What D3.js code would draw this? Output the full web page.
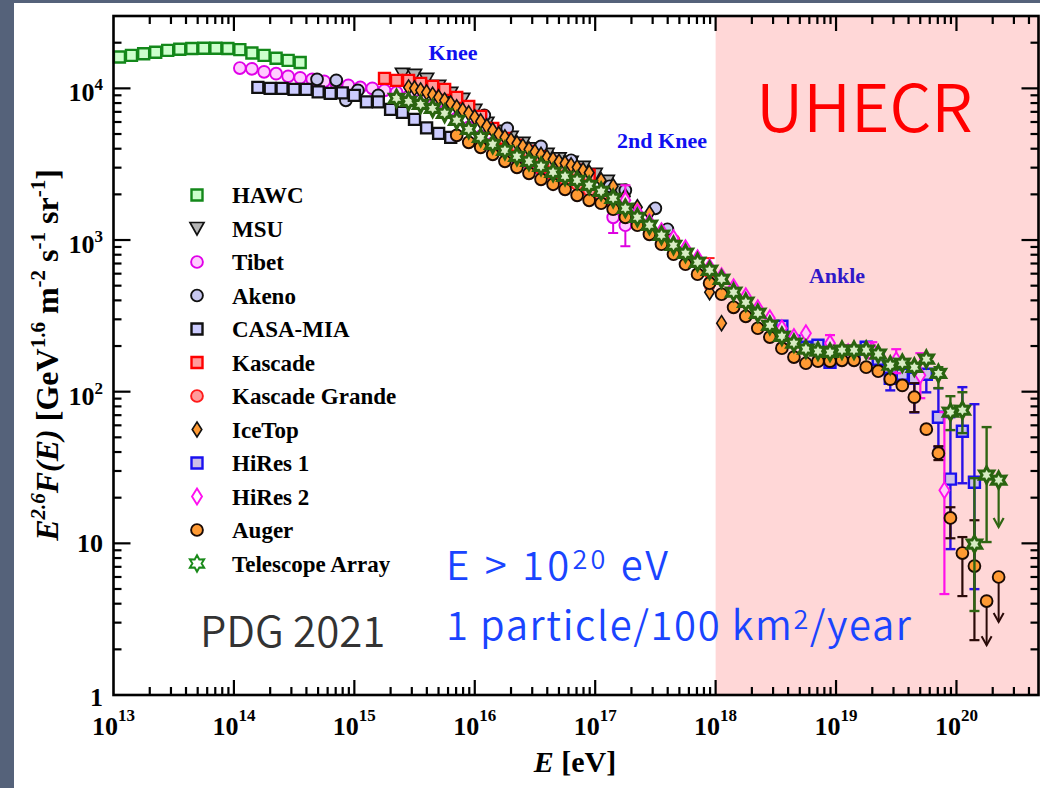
<!DOCTYPE html>
<html><head><meta charset="utf-8">
<script src="https://cdn.jsdelivr.net/npm/d3@7"></script>
<style>html,body{margin:0;padding:0;background:#fff;}svg{display:block}</style>
</head><body>
<svg id="chart" width="1040" height="788"></svg>
<script>
// ---------------- DATA ----------------
const xTickExps = [13, 14, 15, 16, 17, 18, 19, 20];
const yTickLabels = [["1", ""], ["10", ""], ["10", "2"], ["10", "3"], ["10", "4"]];
const yTickValues = [1, 10, 100, 1000, 10000];
const uhecrStart = 1e18;

const hawcE = [1.12e13, 1.41e13, 1.78e13, 2.24e13, 2.82e13, 3.55e13, 4.47e13, 5.62e13, 7.08e13, 8.91e13, 1.12e14, 1.41e14, 1.78e14, 2.24e14, 2.82e14, 3.55e14];
const hawcF = [16100, 16500, 16900, 17300, 17800, 18100, 18300, 18400, 18400, 18300, 18000, 17100, 16500, 15800, 15300, 14800];

const msuE = [2.51e15, 3.16e15, 3.98e15, 5.01e15, 6.31e15, 7.94e15, 1.0e16, 1.26e16, 1.58e16, 2.0e16, 2.51e16, 3.16e16, 3.98e16, 5.01e16, 6.31e16, 7.94e16, 1.0e17, 1.26e17, 1.58e17];
const msuF = [12370, 12180, 11460, 10310, 9270, 8463, 7161, 5882, 5208, 4754, 4341, 3993, 3674, 3431, 3254, 3016, 2712, 2439, 2127];

const tibetE = [1.12e14, 1.41e14, 1.78e14, 2.24e14, 2.82e14, 3.55e14, 4.47e14, 5.62e14, 7.08e14, 8.91e14, 1.12e15, 1.41e15, 1.78e15, 2.24e15, 2.82e15, 3.55e15, 4.47e15, 5.62e15, 7.08e15, 8.91e15, 1.12e16, 1.41e16, 1.78e16, 2.24e16, 2.82e16, 3.55e16, 4.47e16, 5.62e16, 7.08e16, 8.91e16, 1.12e17, 1.41e17, 1.78e17];
const tibetF = [13610, 13450, 12850, 12500, 12000, 11730, 11470, 11120, 10790, 10470, 10150, 10000, 9700, 9410, 8857, 8334, 7727, 7053, 6343, 5534, 4827, 4341, 3904, 3457, 3205, 2926, 2712, 2514, 2366, 2193, 1972, 1412, 1251];
const tibetErr = [[1.41e17, 1112, 1694], [1.78e17, 910, 1619]];

const akenoE = [4.9e14, 7.08e14, 8.5e14, 1.07e15, 1.58e15, 6.31e15, 1.2e16, 1.86e16, 3.55e16, 6.31e16, 1.32e17, 1.78e17, 3.16e17, 3.98e17];
const akenoF = [11470, 11290, 8334, 9700, 8994, 7963, 6640, 5450, 4147, 3354, 2261, 2127, 1619, 1178];

const casaE = [1.58e14, 2.0e14, 2.51e14, 3.16e14, 3.98e14, 5.01e14, 6.31e14, 7.94e14, 1.0e15, 1.26e15, 1.58e15, 2.0e15, 2.51e15, 3.16e15, 3.98e15, 5.01e15, 6.31e15];
const casaF = [10150, 10000, 10000, 9849, 9849, 9482, 9270, 9340, 8994, 8149, 8149, 7270, 6948, 6246, 5491, 5051, 4754];

const kascadeE = [1.78e15, 2.24e15, 2.82e15, 3.55e15, 4.47e15, 5.62e15, 7.08e15, 8.91e15, 1.12e16, 1.41e16, 1.78e16, 2.24e16, 2.82e16, 3.55e16, 4.47e16, 5.62e16, 7.08e16, 8.91e16];
const kascadeF = [11640, 11290, 11290, 10790, 10310, 9850, 8726, 7610, 6540, 5450, 4682, 4211, 3843, 3510, 3254, 3062, 2882, 2672];

const kgE = [1.78e16, 2.24e16, 2.82e16, 3.55e16, 4.47e16, 5.62e16, 7.08e16, 8.91e16, 1.12e17, 1.41e17, 1.78e17, 2.24e17, 2.82e17, 3.55e17, 4.47e17, 5.62e17, 7.08e17, 8.91e17];
const kgF = [3904, 3564, 3254, 2971, 2712, 2514, 2331, 2127, 1942, 1747, 1570, 1349, 1195, 1059, 996, 830, 714, 613];
const kgErr = [[8.91e17, 480, 760]];

const icetopE = [2.82e15, 3.16e15, 3.55e15, 3.98e15, 4.47e15, 5.01e15, 5.62e15, 6.31e15, 7.08e15, 7.94e15, 8.91e15, 1.0e16, 1.12e16, 1.26e16, 1.41e16, 1.58e16, 1.78e16, 2.0e16, 2.24e16, 2.51e16, 2.82e16, 3.16e16, 3.55e16, 3.98e16, 4.47e16, 5.01e16, 5.62e16, 6.31e16, 7.08e16, 7.94e16, 8.91e16, 1.12e17, 1.41e17, 1.78e17, 2.24e17, 2.82e17, 8.91e17, 1.12e18];
const icetopF = [10150, 10000, 9700, 9410, 9063, 8726, 8334, 7963, 7495, 7161, 6845, 6441, 6060, 5618, 5286, 4978, 4754, 4543, 4341, 4147, 3963, 3815, 3646, 3510, 3405, 3279, 3205, 3109, 3016, 2882, 2775, 2476, 2261, 1942, 1644, 1501, 453, 283];

const hires1E = [3.55e18, 4.47e18, 5.62e18, 7.08e18, 8.91e18, 1.12e19, 1.41e19, 1.78e19, 2.24e19, 2.82e19, 3.55e19, 4.47e19, 5.62e19, 7.08e19, 8.91e19, 1.12e20, 1.41e20];
const hires1F = [270, 215, 196.5, 202.5, 156.5, 174, 179.4, 196.5, 163.8, 122.7, 130.4, 122.7, 130.4, 67.9, 26.5, 54.9, 25.3];
const hires1Err = [[2.82e19, 102, 147], [4.47e19, 73, 140], [5.62e19, 99, 139], [7.08e19, 43.1, 105.5], [8.91e19, 9.16, 67.9], [1.12e20, 24.9, 107.1], [1.41e20, 4.99, 82.7]];

const hires2E = [1.78e17, 2.24e17, 2.82e17, 3.55e17, 4.47e17, 5.62e17, 7.08e17, 8.91e17, 1.12e18, 1.41e18, 1.78e18, 2.24e18, 2.82e18, 3.55e18, 4.47e18, 5.62e18, 8.91e18, 1.26e19, 2.0e19, 3.16e19, 5.01e19, 7.94e19];
const hires2F = [1828, 1524, 1309, 1142, 1027, 882, 758, 661, 577, 488, 426, 355, 305, 262, 229, 243, 209, 182, 188, 161, 128.5, 22.4];
const hires2Err = [[1.78e17, 1550, 2295], [8.91e18, 182, 236], [1.26e19, 161, 202.5], [2.0e19, 166, 212], [3.16e19, 132.4, 190.6], [5.01e19, 90.6, 179.4], [7.94e19, 4.63, 73.3]];

const augerE = [7.08e15, 8.91e15, 1.12e16, 1.41e16, 1.78e16, 2.24e16, 2.82e16, 3.55e16, 4.47e16, 5.62e16, 7.08e16, 8.91e16, 1.12e17, 1.41e17, 1.78e17, 2.24e17, 2.82e17, 3.55e17, 4.47e17, 5.62e17, 7.08e17, 8.91e17, 1.12e18, 1.41e18, 1.78e18, 2.24e18, 2.82e18, 3.55e18, 4.47e18, 5.62e18, 7.08e18, 8.91e18, 1.12e19, 1.41e19, 1.78e19, 2.24e19, 2.82e19, 3.55e19, 4.47e19, 5.62e19, 7.08e19, 8.91e19, 1.12e20, 1.41e20, 1.78e20, 2.24e20];
const augerF = [4901, 4409, 4086, 3674, 3303, 3016, 2754, 2514, 2331, 2160, 1972, 1828, 1747, 1595, 1412, 1251, 1091, 938, 806, 692, 595, 519, 439, 360, 314, 262, 229, 193.5, 169, 154, 159, 159, 161, 161, 145, 136.5, 121, 110, 92, 56.6, 39.3, 14.7, 8.63, 7.08, 4.16, 6.0];
const augerErr = [[4.47e19, 73.3, 113.8], [7.08e19, 35.4, 43.7], [8.91e19, 10.8, 17.3], [1.12e20, 4.49, 11.0], [1.41e20, 2.30, 14.2]];
const augerUL = [[1.78e20, 4.16, 2.13], [2.24e20, 6.0, 3.03]];

const taE = [2.24e15, 2.82e15, 3.55e15, 4.47e15, 5.62e15, 7.08e15, 8.91e15, 1.12e16, 1.41e16, 1.78e16, 2.24e16, 2.82e16, 3.55e16, 4.47e16, 5.62e16, 7.08e16, 8.91e16, 1.12e17, 1.41e17, 1.78e17, 2.24e17, 2.82e17, 3.55e17, 4.47e17, 5.62e17, 7.08e17, 8.91e17, 1.12e18, 1.41e18, 1.78e18, 2.24e18, 2.82e18, 3.55e18, 4.47e18, 5.62e18, 7.08e18, 8.91e18, 1.12e19, 1.41e19, 1.78e19, 2.24e19, 2.82e19, 3.55e19, 4.47e19, 5.62e19, 7.08e19, 8.91e19, 1.12e20, 1.41e20, 1.78e20, 2.24e20];
const taF = [8594, 8211, 7846, 7383, 6845, 6155, 5368, 4754, 4276, 3904, 3564, 3303, 3062, 2796, 2631, 2476, 2295, 2096, 1884, 1619, 1412, 1251, 1075, 923, 818, 714, 632, 551, 453, 389, 329, 274, 232, 209, 191, 185, 182, 188, 188, 188, 177, 149.5, 154, 145, 164, 132, 73.3, 75.5, 9.89, 28.2, 26.1];
const taErr = [[7.08e19, 105.5, 145], [8.91e19, 55.8, 93.4], [1.12e20, 53.3, 99.2], [1.41e20, 3.58, 26.9], [1.78e20, 10.2, 58.4]];
const taUL = [[2.24e20, 26.1, 12.8]];

const legendNames = ["HAWC", "MSU", "Tibet", "Akeno", "CASA-MIA", "Kascade", "Kascade Grande", "IceTop", "HiRes 1", "HiRes 2", "Auger", "Telescope Array"];

// ---------------- CHART ----------------
const W = 1040, H = 788;
const SERIF = "'Liberation Serif','Times New Roman',serif";
const SANS = "'Noto Sans CJK JP','Noto Sans',sans-serif";
const svg = d3.select("#chart");

svg.append("rect").attr("width", W).attr("height", H).attr("fill", "#55627a");
svg.append("rect").attr("x", 14).attr("y", 3).attr("width", W - 14).attr("height", H - 3).attr("fill", "#ffffff");

const x = d3.scaleLog().domain([1e13, 4.8e20]).range([113.5, 1038.5]);
const y = d3.scaleLog().domain([1, 3e4]).range([695, 16]);
const X0 = x.range()[0], X1 = x.range()[1], Y0 = y.range()[0], Y1 = y.range()[1];

// UHECR band
svg.append("rect").attr("x", x(uhecrStart)).attr("y", Y1)
  .attr("width", W - x(uhecrStart)).attr("height", Y0 - Y1).attr("fill", "#ffd7d7");

const styles = {
  "HAWC": {shape: "square", fill: "#ccffcc", stroke: "#13881a", sw: 2.4},
  "MSU": {shape: "tri", fill: "#b4b4b4", stroke: "#111", sw: 1.7},
  "Tibet": {shape: "circle", fill: "#ffccff", stroke: "#e000e8", sw: 1.9},
  "Akeno": {shape: "circle", fill: "#c8c8f0", stroke: "#111", sw: 1.9},
  "CASA-MIA": {shape: "square", fill: "#ccccff", stroke: "#111", sw: 2.4},
  "Kascade": {shape: "square", fill: "#ff9c9c", stroke: "#ff0000", sw: 2.4},
  "Kascade Grande": {shape: "circle", fill: "#ff9c9c", stroke: "#ff1a1a", sw: 1.9},
  "IceTop": {shape: "diamond", fill: "#ff9a33", stroke: "#111", sw: 1.6},
  "HiRes 1": {shape: "square", fill: "#cdbfe6", stroke: "#1a10f0", sw: 2.4},
  "HiRes 2": {shape: "diamond2", fill: "#ffccf5", stroke: "#ff10f0", sw: 1.9},
  "Auger": {shape: "circle", fill: "#ff9a33", stroke: "#1a0a05", sw: 1.9},
  "Telescope Array": {shape: "star", fill: "#d8ecc4", stroke: "#2a6410", sw: 3.0}
};

function shapePath(shape) {
  switch (shape) {
    case "square": return "M-5.5,-5.5H5.5V5.5H-5.5Z";
    case "circle": return d3.symbol(d3.symbolCircle, Math.PI * 5.9 * 5.9)();
    case "tri": return "M-7,-6L7,-6L0,6.5Z";
    case "diamond": return "M0,-7.5L4.8,0L0,7.5L-4.8,0Z";
    case "diamond2": return "M0,-8L5,0L0,8L-5,0Z";
    case "star": {
      const pts = [];
      for (let i = 0; i < 12; i++) {
        const a = -Math.PI / 2 + i * Math.PI / 6;
        const r = i % 2 === 0 ? 8.2 : 4.6;
        pts.push([r * Math.cos(a), r * Math.sin(a)]);
      }
      return "M" + pts.map(p => p[0].toFixed(2) + "," + p[1].toFixed(2)).join("L") + "Z";
    }
  }
}

const plot = svg.append("g");

function drawErr(list, color, sw) {
  const g = plot.append("g").attr("stroke", color).attr("stroke-width", sw).attr("fill", "none");
  list.forEach(([e, lo, hi]) => {
    const cx = x(e);
    g.append("line").attr("x1", cx).attr("x2", cx).attr("y1", y(lo)).attr("y2", y(hi));
    g.append("line").attr("x1", cx - 5).attr("x2", cx + 5).attr("y1", y(lo)).attr("y2", y(lo));
    g.append("line").attr("x1", cx - 5).attr("x2", cx + 5).attr("y1", y(hi)).attr("y2", y(hi));
  });
}
function drawUL(list, color, sw) {
  const g = plot.append("g").attr("stroke", color).attr("stroke-width", sw).attr("fill", "none");
  list.forEach(([e, f, to]) => {
    const cx = x(e), ty = y(to);
    g.append("line").attr("x1", cx).attr("x2", cx).attr("y1", y(f)).attr("y2", ty);
    g.append("path").attr("d", `M${cx - 5},${ty - 9}L${cx},${ty}L${cx + 5},${ty - 9}`);
  });
}
function drawSeries(name, E, F) {
  const st = styles[name];
  const d = shapePath(st.shape);
  plot.append("g").selectAll("path").data(E.map((e, i) => [e, F[i]])).join("path")
    .attr("d", d)
    .attr("transform", p => `translate(${x(p[0])},${y(p[1])})`)
    .attr("fill", st.fill).attr("stroke", st.stroke).attr("stroke-width", st.sw)
    .attr("stroke-linejoin", "miter");
}

drawSeries("HAWC", hawcE, hawcF);
drawSeries("MSU", msuE, msuF);
drawErr(tibetErr, "#dd00e0", 2);
drawSeries("Tibet", tibetE, tibetF);
drawSeries("Akeno", akenoE, akenoF);
drawSeries("CASA-MIA", casaE, casaF);
drawSeries("Kascade", kascadeE, kascadeF);
drawErr(kgErr, "#ff1a1a", 2);
drawSeries("Kascade Grande", kgE, kgF);
drawSeries("IceTop", icetopE, icetopF);
drawErr(hires1Err, "#2a10e8", 2.4);
drawSeries("HiRes 1", hires1E, hires1F);
drawErr(hires2Err, "#ff10e8", 2.2);
drawSeries("HiRes 2", hires2E, hires2F);
drawErr(augerErr, "#2a0a08", 2.2);
drawUL(augerUL, "#2a0a08", 2);
drawSeries("Auger", augerE, augerF);
drawErr(taErr, "#2f6512", 2.4);
drawUL(taUL, "#2f6512", 2.2);
drawSeries("Telescope Array", taE, taF);

// ---------------- AXES ----------------
const ax = svg.append("g").attr("stroke", "#000").attr("fill", "none");
const isMajor = t => Math.abs(Math.log10(t) - Math.round(Math.log10(t))) < 1e-9;
x.ticks().forEach(t => {
  const px = x(t), L = isMajor(t) ? 15 : 8;
  if (px < X0 + 1 || px > X1 - 1) return;
  ax.append("line").attr("x1", px).attr("x2", px).attr("y1", Y0).attr("y2", Y0 - L).attr("stroke-width", 2.2);
  ax.append("line").attr("x1", px).attr("x2", px).attr("y1", Y1).attr("y2", Y1 + L).attr("stroke-width", 2.2);
});
y.ticks().forEach(t => {
  const py = y(t), L = isMajor(t) ? 17 : 8;
  if (py > Y0 - 1 || py < Y1 + 1) return;
  ax.append("line").attr("x1", X0).attr("x2", X0 + L).attr("y1", py).attr("y2", py).attr("stroke-width", 2.2);
  ax.append("line").attr("x1", X1).attr("x2", X1 - L).attr("y1", py).attr("y2", py).attr("stroke-width", 2.2);
});
ax.append("rect").attr("x", X0).attr("y", Y1).attr("width", X1 - X0).attr("height", Y0 - Y1).attr("stroke-width", 2.6);

// tick labels
const lab = svg.append("g").attr("font-family", SERIF).attr("font-weight", "bold").attr("fill", "#000");
xTickExps.forEach(e => {
  const t = lab.append("text").attr("x", x(Math.pow(10, e))).attr("y", 735).attr("text-anchor", "middle").attr("font-size", 26);
  t.append("tspan").text("10");
  t.append("tspan").attr("font-size", 17).attr("dy", -14).text(String(e));
});
yTickValues.forEach((v, i) => {
  const [base, sup] = yTickLabels[i];
  const off = sup ? 13 : (base === "1" ? 11 : 9);
  const t = lab.append("text").attr("x", 103).attr("y", y(v) + off).attr("text-anchor", "end").attr("font-size", 26);
  t.append("tspan").text(base);
  if (sup) t.append("tspan").attr("font-size", 17).attr("dy", -11).text(sup);
});

// axis titles
const xt = lab.append("text").attr("x", 575).attr("y", 772).attr("text-anchor", "middle").attr("font-size", 30);
xt.append("tspan").attr("font-style", "italic").text("E");
xt.append("tspan").text(" [eV]");

const yt = lab.append("text").attr("transform", "translate(58,355) rotate(-90)").attr("text-anchor", "middle").attr("font-size", 32);
yt.append("tspan").attr("font-style", "italic").text("E");
yt.append("tspan").attr("font-style", "italic").attr("font-size", 21).attr("dy", -13).text("2.6");
yt.append("tspan").attr("font-style", "italic").attr("dy", 13).text("F(E)");
yt.append("tspan").text(" [GeV");
yt.append("tspan").attr("font-size", 21).attr("dy", -13).text("1.6");
yt.append("tspan").attr("dy", 13).text(" m");
yt.append("tspan").attr("font-size", 21).attr("dy", -13).text("-2");
yt.append("tspan").attr("dy", 13).text(" s");
yt.append("tspan").attr("font-size", 21).attr("dy", -13).text("-1");
yt.append("tspan").attr("dy", 13).text(" sr");
yt.append("tspan").attr("font-size", 21).attr("dy", -13).text("-1");
yt.append("tspan").attr("dy", 13).text("]");

// ---------------- LEGEND ----------------
const leg = svg.append("g");
legendNames.forEach((n, i) => {
  const cy = 195 + i * 33.5;
  const st = styles[n];
  let fill = st.fill;
  if (n === "Telescope Array" || n === "HiRes 2") fill = "#ffffff";
  leg.append("path").attr("d", shapePath(st.shape)).attr("transform", `translate(197,${cy})`)
    .attr("fill", fill).attr("stroke", n === "Telescope Array" ? "#1a8a1a" : st.stroke)
    .attr("stroke-width", n === "Telescope Array" ? 2 : st.sw);
  leg.append("text").attr("x", 232).attr("y", cy + 8).attr("font-family", SERIF).attr("font-weight", "bold")
    .attr("font-size", 23).attr("fill", "#000").text(n);
});

// ---------------- ANNOTATIONS ----------------
const ann = svg.append("g").attr("font-family", SERIF).attr("font-weight", "bold").attr("font-size", 22);
ann.append("text").attr("x", 453).attr("y", 60).attr("text-anchor", "middle").attr("fill", "#1010f0").text("Knee");
ann.append("text").attr("x", 662).attr("y", 148).attr("text-anchor", "middle").attr("fill", "#1010f0").text("2nd Knee");
ann.append("text").attr("x", 837).attr("y", 283).attr("text-anchor", "middle").attr("fill", "#3018c8").text("Ankle");

svg.append("text").attr("x", 756).attr("y", 132).attr("font-family", SANS).attr("font-weight", 350).attr("font-size", 66)
  .attr("fill", "#ff0000").text("UHECR");

const t1 = svg.append("text").attr("x", 446).attr("y", 580).attr("font-family", SANS).attr("font-weight", 350).attr("font-size", 40)
  .attr("fill", "#1a44ff").attr("textLength", 222).attr("lengthAdjust", "spacing");
t1.append("tspan").text("E > 10");
t1.append("tspan").attr("font-size", 27).attr("dy", -11).text("20");
t1.append("tspan").attr("dy", 11).text(" eV");
const t2 = svg.append("text").attr("x", 446).attr("y", 640).attr("font-family", SANS).attr("font-weight", 350).attr("font-size", 40)
  .attr("fill", "#1a44ff").attr("textLength", 465).attr("lengthAdjust", "spacing");
t2.append("tspan").text("1 particle/100 km");
t2.append("tspan").attr("font-size", 27).attr("dy", -11).text("2");
t2.append("tspan").attr("dy", 11).text("/year");

svg.append("text").attr("x", 200).attr("y", 647).attr("font-family", SANS).attr("font-weight", 350).attr("font-size", 42)
  .attr("fill", "#333333").text("PDG 2021");
</script>
</body></html>
